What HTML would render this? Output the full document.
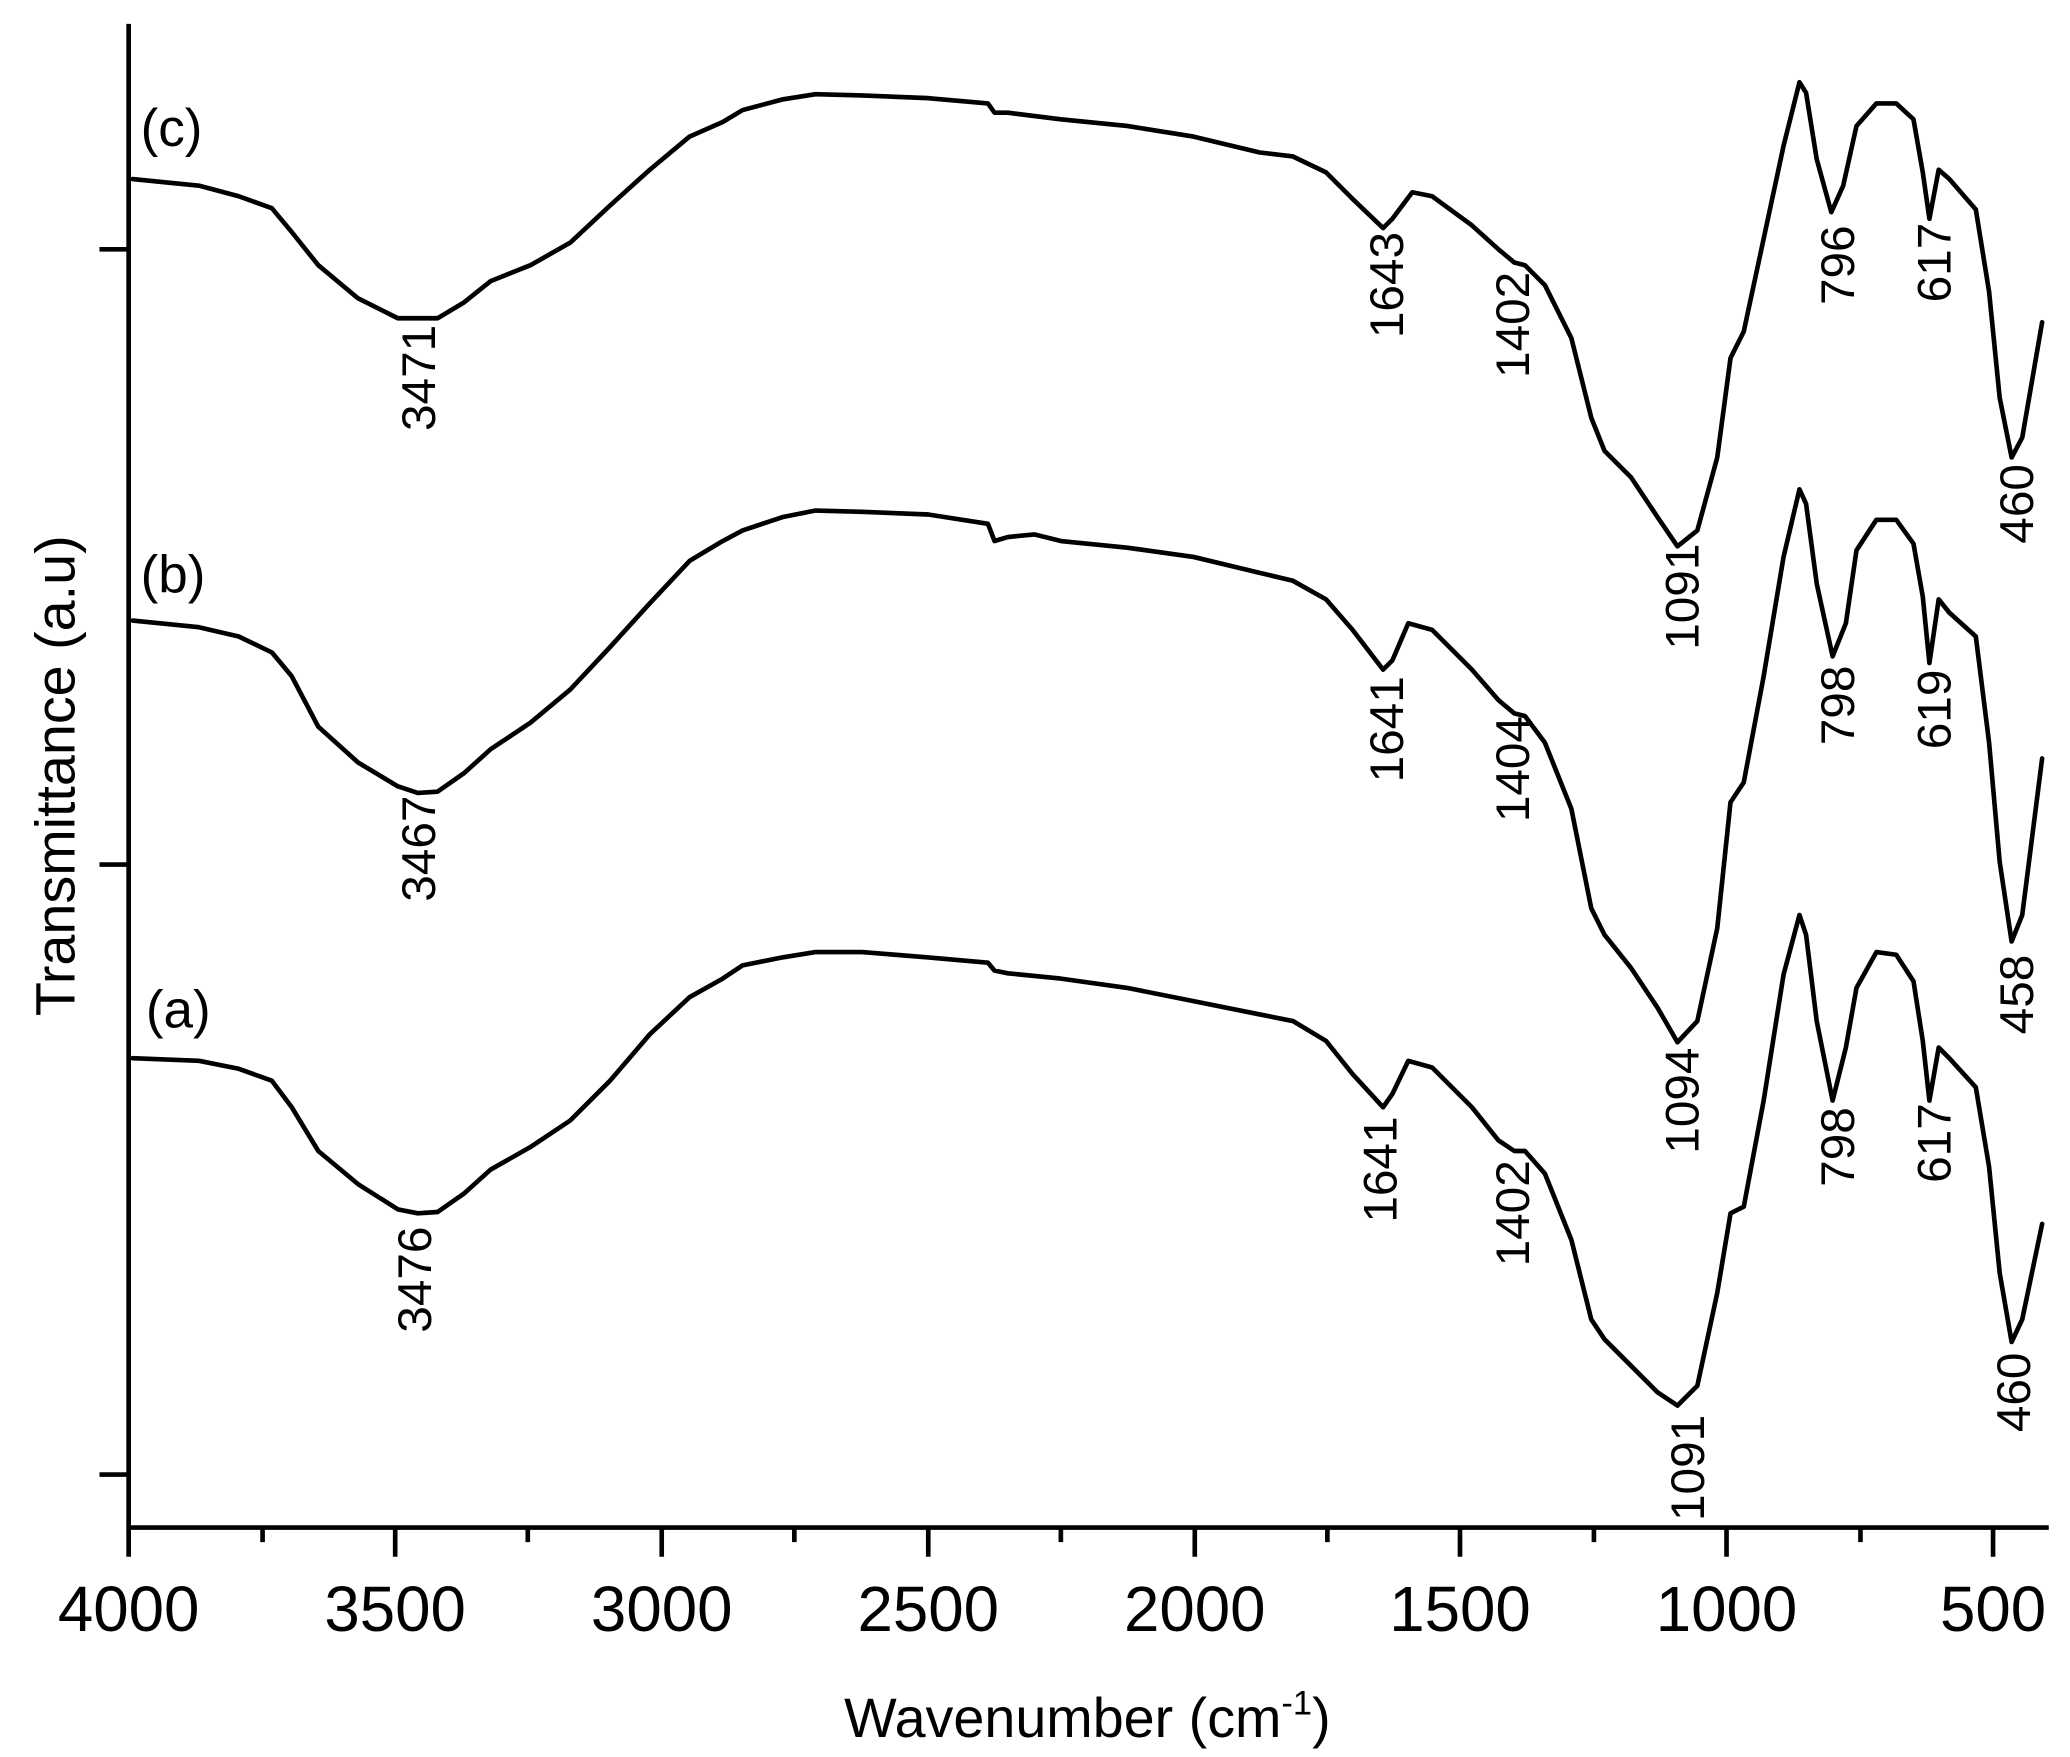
<!DOCTYPE html>
<html><head><meta charset="utf-8"><style>
html,body{margin:0;padding:0;background:#fff}
svg{display:block}
text{font-family:"Liberation Sans",Arial,sans-serif;fill:#000}
</style></head><body>
<svg width="2070" height="1757" viewBox="0 0 1561 1325" xmlns="http://www.w3.org/2000/svg">
<g stroke="#000" stroke-width="3.5" fill="none" stroke-linejoin="round" stroke-linecap="round">
<polyline points="100,135 150,140 180,148 205,157 220,175 240,200 270,225 300,240 330,240 350,228 370,212 400,200 430,183 460,155 490,128 520,103 545,92 560,83 590,75 615,71 650,72 700,74 745,78 750,85 760,85 800,90 850,95 900,103 950,115 975,118 1000,130 1020,150 1043,172 1050,165 1065,145 1080,148 1110,170 1130,188 1142,198 1150,200 1165,215 1185,255 1200,315 1210,340 1230,360 1250,390 1265,412 1280,400 1295,345 1305,270 1315,250 1330,180 1345,110 1357,62 1362,70 1370,120 1381,160 1390,140 1400,95 1415,78 1430,78 1443,90 1450,130 1455,165 1462,128 1470,135 1490,158 1500,220 1508,300 1517,345 1525,330 1540,243"/>
<polyline points="100,468 150,473 180,480 205,492 220,510 240,548 270,575 300,593 315,598 330,597 350,583 370,565 400,545 430,520 460,488 490,455 520,423 545,408 560,400 590,390 615,385 650,386 700,388 745,395 750,408 760,405 780,403 800,408 850,413 900,420 950,432 975,438 1000,452 1020,475 1043,505 1050,498 1062,470 1080,475 1110,505 1130,528 1142,538 1150,540 1165,560 1185,610 1200,685 1210,705 1230,730 1250,760 1265,786 1280,770 1295,700 1305,605 1315,590 1330,510 1345,420 1357,369 1362,380 1370,440 1382,495 1392,470 1400,415 1415,392 1430,392 1443,410 1450,450 1455,500 1462,452 1470,462 1490,480 1500,560 1508,650 1517,710 1525,690 1540,572"/>
<polyline points="100,798 150,800 180,806 205,815 220,835 240,868 270,893 300,912 315,915 330,914 350,900 370,882 400,865 430,845 460,815 490,780 520,752 545,738 560,728 590,722 615,718 650,718 700,722 745,726 750,732 760,734 800,738 850,745 900,755 950,765 975,770 1000,785 1020,810 1043,835 1050,825 1062,800 1080,805 1110,835 1130,860 1142,868 1150,868 1165,885 1185,935 1200,995 1210,1010 1230,1030 1250,1050 1265,1060 1280,1045 1295,975 1305,915 1315,910 1330,830 1345,735 1357,690 1362,705 1370,770 1382,830 1392,790 1400,745 1415,718 1430,720 1443,740 1450,785 1455,830 1462,790 1470,798 1490,820 1500,880 1508,960 1517,1012 1525,995 1540,923"/>
</g>
<g stroke="#000" stroke-width="3.5" fill="none">
<line x1="97" y1="18" x2="97" y2="1153"/>
<line x1="96" y1="1152" x2="1545" y2="1152"/>
<line x1="75" y1="188" x2="97" y2="188"/>
<line x1="75" y1="652" x2="97" y2="652"/>
<line x1="75" y1="1112" x2="97" y2="1112"/>
<path d="M97,1152V1174M298,1152V1174M499,1152V1174M700,1152V1174M901,1152V1174M1101,1152V1174M1302,1152V1174M1503,1152V1174"/>
<path d="M198,1152V1163M398,1152V1163M599,1152V1163M800,1152V1163M1001,1152V1163M1202,1152V1163M1403,1152V1163"/>
</g>
<g font-size="48" text-anchor="middle">
<text x="97" y="1230">4000</text><text x="298" y="1230">3500</text><text x="499" y="1230">3000</text><text x="700" y="1230">2500</text><text x="901" y="1230">2000</text><text x="1101" y="1230">1500</text><text x="1302" y="1230">1000</text><text x="1503" y="1230">500</text>
</g>
<text x="820" y="1310" font-size="42" text-anchor="middle">Wavenumber (cm<tspan font-size="26" dy="-17">-1</tspan><tspan dy="17">)</tspan></text>
<text transform="translate(56,585) rotate(-90)" font-size="42" text-anchor="middle">Transmittance (a.u)</text>
<g font-size="40"><text x="106" y="110">(c)</text><text x="106" y="447">(b)</text><text x="110" y="775">(a)</text></g>
<g font-size="36" text-anchor="middle">
<text transform="translate(328,285) rotate(-90)">3471</text>
<text transform="translate(1058,215) rotate(-90)">1643</text>
<text transform="translate(1153,245) rotate(-90)">1402</text>
<text transform="translate(1281,450) rotate(-90)">1091</text>
<text transform="translate(1398,200) rotate(-90)">796</text>
<text transform="translate(1471,198) rotate(-90)">617</text>
<text transform="translate(1533,380) rotate(-90)">460</text>
<text transform="translate(328,640) rotate(-90)">3467</text>
<text transform="translate(1058,550) rotate(-90)">1641</text>
<text transform="translate(1153,580) rotate(-90)">1404</text>
<text transform="translate(1281,830) rotate(-90)">1094</text>
<text transform="translate(1398,532) rotate(-90)">798</text>
<text transform="translate(1471,535) rotate(-90)">619</text>
<text transform="translate(1533,750) rotate(-90)">458</text>
<text transform="translate(325,965) rotate(-90)">3476</text>
<text transform="translate(1053,882) rotate(-90)">1641</text>
<text transform="translate(1153,915) rotate(-90)">1402</text>
<text transform="translate(1285,1107) rotate(-90)">1091</text>
<text transform="translate(1398,865) rotate(-90)">798</text>
<text transform="translate(1471,862) rotate(-90)">617</text>
<text transform="translate(1531,1050) rotate(-90)">460</text>
</g>
</svg>
</body></html>
